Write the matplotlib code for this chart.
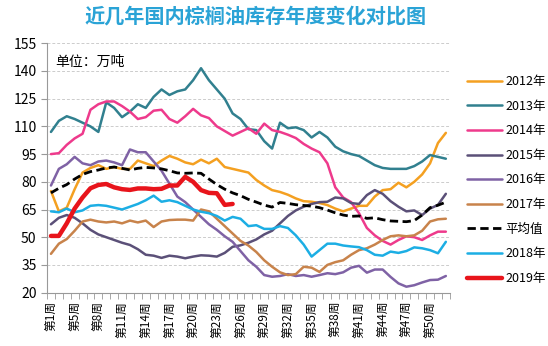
import numpy as np
import matplotlib
matplotlib.use("Agg")
from matplotlib import pyplot as plt

plt.rcParams['font.family'] = ['Noto Sans CJK SC', 'DejaVu Sans']

# week labels (one week between 3 and 5 is missing in the source)
weeks = [1, 2, 3] + list(range(5, 53))

y2012 = [75, 64, 66, 76, 85, 87.5, 89, 87, 88, 87, 87, 91.5, 90, 88.5, 91.5, 94, 92.5,
         90.5, 89.5, 92, 90, 92.5, 88, 87, 86, 85, 81, 78, 75.5, 74.5, 73, 71, 69.5,
         69.2, 68.5, 67.4, 65.5, 64, 65.5, 67, 67, 72, 75.5, 76, 79.5, 77, 80, 84, 90,
         101, 106.5]
y2013 = [107, 113, 115.5, 114, 112, 110, 107, 123, 120, 115, 118, 122, 120, 126, 130,
         127, 129, 130, 135, 141.5, 135, 130, 125, 117, 114, 108.5, 108, 102, 98, 112,
         109, 109.5, 108, 104, 107, 104, 99, 96.5, 95, 94, 91.5, 89, 87.5, 87, 87, 87,
         88.5, 91, 94.5, 93.5, 92.5]
y2014 = [95, 95.5, 100, 103.5, 106, 119, 122, 123.5, 123.5, 121, 118, 114, 115, 118.5,
         119, 114, 112, 115.5, 119.5, 116, 114.5, 110, 107.5, 105, 107, 109, 106, 111.5,
         108, 107, 105.5, 103.7, 100.5, 98, 96, 90, 77, 71.5, 69, 63, 55, 51, 48, 46,
         48.5, 50.5, 50, 48.5, 51, 53, 53]
y2015 = [57, 60.5, 62, 60.5, 57.5, 54, 51.5, 50, 48.5, 47, 45.8, 43.5, 40.5, 40, 38.8,
         40, 39.5, 38.6, 39.5, 40.2, 40, 39.5, 41.5, 44.8, 45.6, 47, 48.8, 51.5, 53.5,
         57.5, 61.5, 64.5, 66.5, 68, 69, 69.2, 71.5, 71, 68.5, 68, 72.8, 75.5, 73.5,
         69.5, 66.5, 64, 64.5, 62, 65.5, 67.5, 73.5]
y2016 = [78, 87, 89.5, 93.5, 90, 89, 91, 91.5, 90.5, 89, 97.5, 96, 96, 91, 86, 79, 72,
         69, 65, 61, 57, 54, 50.5, 47.5, 42.5, 37.5, 34, 29.5, 28.6, 29, 30, 29, 29.5,
         28.6, 29.5, 30.5, 30, 31, 33.5, 34.5, 30.8, 32.5, 32.5, 28.5, 25, 23.2, 24,
         25.5, 26.8, 27, 29]
y2017 = [41, 46.5, 49, 53.5, 58.5, 59.5, 58.5, 58, 58.5, 57.5, 59, 58, 59, 55.5, 58.5,
         59.3, 59.5, 59.5, 59, 65, 64, 60, 56, 52, 48, 45.5, 42, 37.5, 34, 31, 29.5, 30,
         34, 33.5, 31.2, 35, 36.5, 37.5, 40.5, 43, 44, 46, 48.5, 50.5, 51, 50.5, 51,
         53.5, 58.5, 59.7, 60]
avg = [74, 76.5, 78.5, 81.5, 84, 85.5, 86.4, 87.5, 88, 87.3, 86.4, 87.3, 87.8, 87.5, 87,
       86, 84.8, 84.6, 84.8, 84.6, 81.5, 78.5, 76, 74, 72.5, 70.5, 69, 67.4, 66.3, 68.8,
       68.3, 67.6, 67.2, 66.8, 66, 64.7, 63.2, 62, 61.3, 61.5, 60.2, 60.5, 59.5, 58.8,
       58.6, 58.4, 59, 62, 66, 67.3, 69]
y2018 = [64, 63.5, 65.5, 63.5, 64.5, 67, 67.4, 67, 66, 65, 66.5, 68, 70, 72.5, 69.2, 70,
         69, 67, 65, 63.8, 63, 61.5, 59, 61, 60, 56, 56.5, 54.5, 54.5, 56, 55, 51, 46,
         39.5, 43, 46.5, 46.5, 45.5, 45, 44.6, 43, 40.5, 40, 42.2, 41.5, 42.5, 44.5, 44,
         43, 41.3, 47.5]
y2019 = [50.7, 50.7, 57.5, 65.5, 71.5, 76.5, 78.3, 78.8, 77, 76, 75.6, 76.4, 76.4, 76,
         76.2, 78, 78, 82.7, 80, 75.5, 74, 73.8, 67.5, 68]

series = [
    ("2012年", y2012, "#F4A021", "-", 1.8),
    ("2013年", y2013, "#31808F", "-", 1.8),
    ("2014年", y2014, "#EE3A8C", "-", 1.8),
    ("2015年", y2015, "#5B5078", "-", 1.8),
    ("2016年", y2016, "#7F62A5", "-", 1.8),
    ("2017年", y2017, "#C8834B", "-", 1.8),
    ("平均值", avg, "black", (0, (3, 1.6)), 2.0),
    ("2018年", y2018, "#1CAEE4", "-", 1.8),
    ("2019年", y2019, "#E8141B", "-", 3.2),
]

fig = plt.figure(figsize=(5.48, 3.46), dpi=100)
ax = fig.add_axes([0.0858, 0.1543, 0.735, 0.7206])

for name, vals, col, ls, lw in series:
    ax.plot(np.arange(len(vals)), vals, color=col, linestyle=ls, lw=lw,
            label=name, solid_joinstyle='round', solid_capstyle='round')

ax.set_ylim(20, 155)
ax.set_yticks(np.arange(20, 156, 15))
ax.set_xlim(-0.5, len(weeks) - 0.5)
ticks = np.arange(0, len(weeks), 3)
ax.set_xticks(ticks)
ax.set_xticklabels(["第%d周" % weeks[i] for i in ticks], rotation=90, fontsize=8.5)
ax.set_xticks(np.arange(-0.5, len(weeks), 1), minor=True)
ax.tick_params(axis='x', which='major', length=0, pad=6)
ax.tick_params(axis='x', which='minor', length=4, color='#999999', direction='out')
ax.tick_params(axis='y', length=4, color='#999999', labelsize=10)

ax.grid(axis='y', color='#CCCCCC', linestyle=(0, (3, 2)), lw=0.7)
ax.set_axisbelow(True)
for s in ['top', 'right']:
    ax.spines[s].set_visible(False)
for s in ['left', 'bottom']:
    ax.spines[s].set_color('#999999')

ax.text(0.02, 0.955, "单位：万吨", transform=ax.transAxes, fontsize=10, va='top')

fig.text(0.467, 0.955, "近几年国内棕榈油库存年度变化对比图", ha='center', va='center',
         fontsize=14.5, color='#2AA3D6', fontweight='bold')

fig.legend(*ax.get_legend_handles_labels(), loc='upper left',
           bbox_to_anchor=(467 / 548, 1 - 75 / 346), frameon=False, fontsize=9,
           handlelength=2.8, labelspacing=0.93, handletextpad=0.25,
           borderpad=0, borderaxespad=0)

fig.savefig("out.png", dpi=100)
